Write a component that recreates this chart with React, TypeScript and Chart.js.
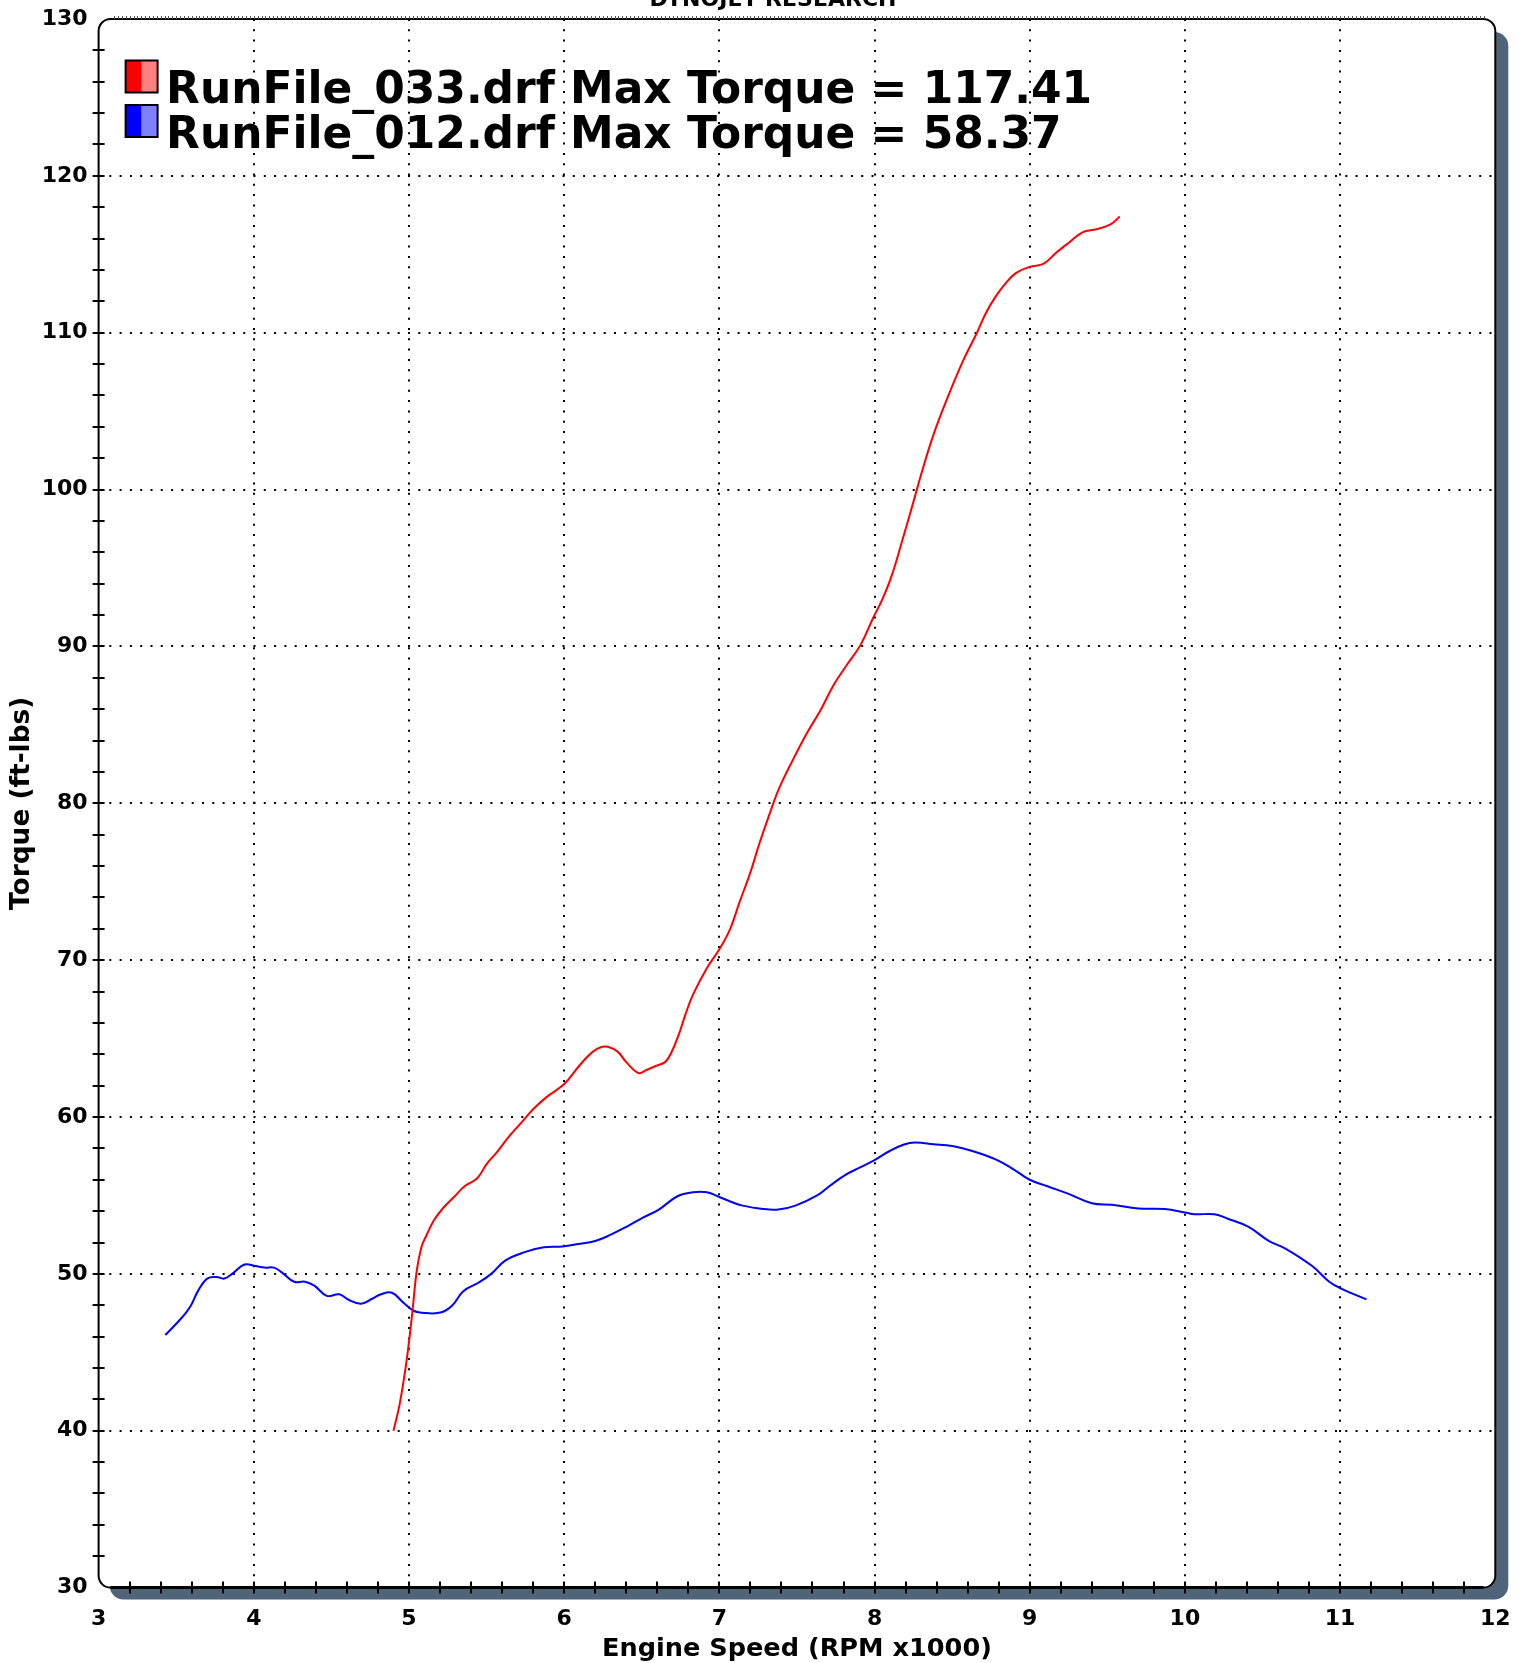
import React, { useEffect, useRef } from "react";
import { Chart, registerables } from "chart.js";

Chart.register(...registerables);

// ---- data (RPM x1000, ft-lbs) ----
const redRpm = [
  4.90, 4.94, 4.985, 5.02, 5.05, 5.08, 5.11, 5.16, 5.22, 5.29, 5.36, 5.44, 5.50, 5.57, 5.64,
  5.72, 5.80, 5.89, 6.00, 6.10, 6.19, 6.26, 6.34, 6.40, 6.48, 6.53, 6.59, 6.65, 6.69, 6.74,
  6.78, 6.83, 6.92, 7.00, 7.07, 7.13, 7.20, 7.26, 7.33, 7.37, 7.41, 7.46, 7.56, 7.65, 7.74,
  7.82, 7.91, 7.99, 8.05, 8.11, 8.18, 8.25, 8.31, 8.38, 8.46, 8.57, 8.66, 8.72, 8.78, 8.84,
  8.91, 9.00, 9.09, 9.17, 9.26, 9.34, 9.43, 9.52, 9.58,
];
const redTorque = [
  40.0, 41.7, 44.5, 47.4, 50.2, 51.7, 52.4, 53.4, 54.2, 54.9, 55.6, 56.1, 57.0, 57.8, 58.7,
  59.6, 60.5, 61.3, 62.1, 63.3, 64.2, 64.5, 64.2, 63.5, 62.8, 63.0, 63.25, 63.5, 64.1, 65.3,
  66.5, 67.8, 69.5, 70.7, 72.0, 73.7, 75.6, 77.5, 79.5, 80.6, 81.5, 82.5, 84.4, 85.9, 87.6,
  88.8, 90.1, 91.8, 93.0, 94.5, 96.8, 99.2, 101.3, 103.5, 105.6, 108.2, 110.0, 111.3, 112.3, 113.1,
  113.8, 114.2, 114.4, 115.1, 115.8, 116.4, 116.6, 116.9, 117.41,
];
const blueRpm = [
  3.43, 3.54, 3.59, 3.64, 3.70, 3.76, 3.81, 3.86, 3.94, 4.01, 4.07, 4.13, 4.18, 4.26, 4.33,
  4.39, 4.47, 4.55, 4.61, 4.69, 4.76, 4.82, 4.89, 4.96, 5.03, 5.11, 5.21, 5.28, 5.35, 5.45,
  5.53, 5.62, 5.75, 5.87, 5.99, 6.09, 6.20, 6.29, 6.41, 6.51, 6.61, 6.73, 6.83, 6.92, 7.00,
  7.10, 7.15, 7.27, 7.38, 7.49, 7.63, 7.71, 7.81, 7.91, 8.00, 8.10, 8.19, 8.26, 8.38, 8.50,
  8.64, 8.78, 8.89, 9.00, 9.11, 9.25, 9.40, 9.53, 9.70, 9.87, 10.00, 10.06, 10.19, 10.28, 10.41,
  10.54, 10.65, 10.82, 10.93, 11.01, 11.17,
];
const blueTorque = [
  46.1, 47.25, 47.9, 48.9, 49.7, 49.8, 49.7, 50.0, 50.6, 50.5, 50.4, 50.4, 50.1, 49.5, 49.5,
  49.25, 48.6, 48.7, 48.35, 48.1, 48.4, 48.7, 48.8, 48.2, 47.65, 47.5, 47.55, 48.0, 48.9, 49.45,
  50.0, 50.85, 51.4, 51.7, 51.75, 51.9, 52.1, 52.45, 53.05, 53.6, 54.1, 54.95, 55.2, 55.2, 54.9,
  54.5, 54.35, 54.15, 54.1, 54.35, 55.0, 55.6, 56.3, 56.8, 57.25, 57.85, 58.25, 58.37, 58.27, 58.15,
  57.8, 57.3, 56.7, 56.0, 55.6, 55.1, 54.5, 54.4, 54.17, 54.13, 53.92, 53.8, 53.8, 53.5, 53.0,
  52.1, 51.6, 50.5, 49.5, 49.05, 48.37,
];
const seriesLabels = [
  "RunFile_033.drf Max Torque = 117.41",
  "RunFile_012.drf Max Torque = 58.37",
];
const seriesColors = ["#ff0000", "#0000ff"];
const seriesLight = ["#ff8080", "#8080ff"];
const xRange = [3, 12];
const yRange = [30, 130];
const chartTitle = "DYNOJET RESEARCH";
const xTitle = "Engine Speed (RPM x1000)";
const yTitle = "Torque (ft-lbs)";

const FONT = "'DejaVu Sans', Verdana, sans-serif";

const framePlugin = {
  id: "dynoFrame",
  beforeDraw(chart: any) {
    const { ctx, chartArea: a } = chart;
    ctx.save();
    ctx.fillStyle = "#ffffff";
    ctx.fillRect(0, 0, chart.width, chart.height);
    // shadow
    ctx.beginPath();
    ctx.roundRect(a.left + 11, a.top + 13, a.right + 13 - (a.left + 11), a.bottom + 12 - (a.top + 13), 14);
    ctx.fillStyle = "#506479";
    ctx.fill();
    // plot background
    ctx.beginPath();
    ctx.roundRect(a.left, a.top, a.right - a.left, a.bottom - a.top, 12);
    ctx.fillStyle = "#ffffff";
    ctx.fill();
    ctx.restore();
  },
  afterDraw(chart: any) {
    const { ctx, chartArea: a } = chart;
    const xs = chart.scales.x;
    const ys = chart.scales.y;
    ctx.save();
    // frame
    ctx.beginPath();
    ctx.roundRect(a.left, a.top, a.right - a.left, a.bottom - a.top, 12);
    ctx.strokeStyle = "#000";
    ctx.lineWidth = 2;
    ctx.stroke();
    // thicker bottom axis
    ctx.beginPath();
    ctx.moveTo(a.left + 12, a.bottom);
    ctx.lineTo(a.right - 12, a.bottom);
    ctx.lineWidth = 3;
    ctx.stroke();
    // top hatch
    ctx.lineWidth = 1;
    ctx.strokeStyle = "#555";
    ctx.beginPath();
    for (let v = xRange[0] + 0.1; v < xRange[1] - 0.05; v += 0.025) {
      const px = Math.round(xs.getPixelForValue(v)) + 0.5;
      ctx.moveTo(px, a.top - 3);
      ctx.lineTo(px, a.top);
    }
    ctx.stroke();
    // minor / major ticks crossing axes
    ctx.strokeStyle = "#000";
    ctx.lineWidth = 2;
    ctx.beginPath();
    for (let i = 1; i < (xRange[1] - xRange[0]) * 5; i++) {
      const v = xRange[0] + i * 0.2;
      const px = Math.round(xs.getPixelForValue(v));
      ctx.moveTo(px, a.bottom - 6);
      ctx.lineTo(px, a.bottom + 6);
    }
    for (let i = 1; i < (yRange[1] - yRange[0]) / 2; i++) {
      const v = yRange[0] + i * 2;
      const py = Math.round(ys.getPixelForValue(v));
      ctx.moveTo(a.left - 6, py);
      ctx.lineTo(a.left + 6, py);
    }
    ctx.stroke();

    // legend
    ctx.font = `bold 44px ${FONT}`;
    ctx.textBaseline = "alphabetic";
    ctx.textAlign = "left";
    const w0 = ctx.measureText(chart.data.datasets[0].label).width;
    const sx = 926 / w0;
    chart.data.datasets.forEach((ds: any, i: number) => {
      const boxTop = a.top + 41.5 + i * 44.5;
      const boxLeft = a.left + 27;
      ctx.fillStyle = seriesColors[i];
      ctx.fillRect(boxLeft, boxTop, 16, 32);
      ctx.fillStyle = seriesLight[i];
      ctx.fillRect(boxLeft + 16, boxTop, 16, 32);
      ctx.strokeStyle = "#000";
      ctx.lineWidth = 2;
      ctx.strokeRect(boxLeft, boxTop, 32, 32);
      ctx.save();
      ctx.translate(a.left + 67.5, a.top + 84 + i * 44.7);
      ctx.scale(sx, 1);
      ctx.fillStyle = "#000";
      ctx.fillText(ds.label, 0, 0);
      ctx.restore();
    });

    // top (cut) title
    ctx.font = `bold 22px ${FONT}`;
    ctx.textAlign = "center";
    ctx.fillStyle = "#000";
    ctx.fillText(chartTitle, 773, 5.5);
    ctx.restore();
  },
};

export default function App() {
  const ref = useRef<HTMLCanvasElement | null>(null);
  useEffect(() => {
    document.body.style.margin = "0";
    document.body.style.overflow = "hidden";
    const canvas = ref.current!;
    const edge = (lo: number, hi: number) => (c: any) => {
      const v = c.tick ? c.tick.value : NaN;
      return v === lo || v === hi ? "rgba(0,0,0,0)" : "#000";
    };
    const chart = new Chart(canvas, {
      type: "line",
      data: {
        datasets: [
          {
            label: seriesLabels[0],
            data: redRpm.map((x, i) => ({ x, y: redTorque[i] })),
            borderColor: seriesColors[0],
            backgroundColor: seriesColors[0],
            borderWidth: 2,
            pointRadius: 0,
            tension: 0.4,
            fill: false,
          },
          {
            label: seriesLabels[1],
            data: blueRpm.map((x, i) => ({ x, y: blueTorque[i] })),
            borderColor: seriesColors[1],
            backgroundColor: seriesColors[1],
            borderWidth: 2,
            pointRadius: 0,
            tension: 0.4,
            fill: false,
          },
        ],
      },
      options: {
        animation: false,
        responsive: false,
        devicePixelRatio: 1,
        events: [],
        layout: { padding: { left: 0, top: 19, right: 29.7, bottom: 0 } },
        plugins: { legend: { display: false }, tooltip: { enabled: false }, title: { display: false } },
        scales: {
          x: {
            type: "linear",
            min: xRange[0],
            max: xRange[1],
            afterFit: (s: any) => {
              s.height = 75.4;
              s.paddingLeft = 0;
              s.paddingRight = 0;
            },
            ticks: {
              stepSize: 1,
              padding: 18,
              color: "#000",
              font: { family: FONT, size: 22, weight: "bold" },
              maxRotation: 0,
            },
            grid: { color: edge(xRange[0], xRange[1]), lineWidth: 2, drawTicks: false },
            border: { display: false, dash: [2, 8.3] },
            title: {
              display: true,
              text: xTitle,
              color: "#000",
              font: { family: FONT, size: 25.6, weight: "bold", lineHeight: 1.2 },
              padding: { top: 0, bottom: -1.5 },
            },
          },
          y: {
            type: "linear",
            min: yRange[0],
            max: yRange[1],
            afterFit: (s: any) => {
              s.width = 98.6;
              s.paddingTop = 0;
              s.paddingBottom = 0;
            },
            ticks: {
              stepSize: 10,
              padding: 11,
              color: "#000",
              font: { family: FONT, size: 22, weight: "bold" },
            },
            grid: { color: edge(yRange[0], yRange[1]), lineWidth: 2, drawTicks: false },
            border: { display: false, dash: [2, 8.3] },
            title: {
              display: true,
              text: yTitle,
              color: "#000",
              font: { family: FONT, size: 26.4, weight: "bold", lineHeight: 1.2 },
              padding: { top: 6, bottom: 0 },
            },
          },
        },
      } as any,
      plugins: [framePlugin],
    });
    return () => chart.destroy();
  }, []);
  return (
    <div style={{ position: "absolute", left: 0, top: 0, width: 1525, height: 1663 }}>
      <canvas ref={ref} width={1525} height={1663} style={{ display: "block", width: 1525, height: 1663 }} />
    </div>
  );
}
